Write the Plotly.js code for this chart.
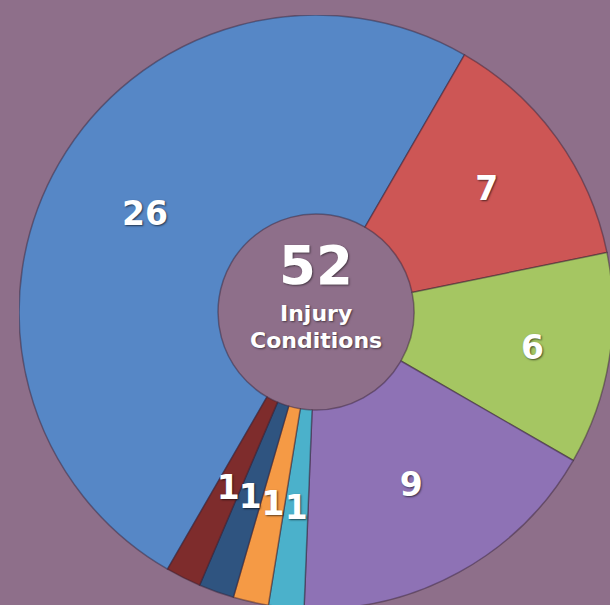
<!DOCTYPE html>
<html>
<head>
<meta charset="utf-8">
<script src="https://cdn.plot.ly/plotly-3.0.1.min.js"></script>
<style>
  html, body { margin: 0; padding: 0; width: 610px; height: 605px; overflow: hidden; background: #8E6F8A; }
  #chart { position: absolute; left: 19px; top: 15px; width: 594px; height: 594px; }
</style>
</head>
<body>
<div id="chart"></div>
<script>
const categories = ["A", "B", "C", "D", "E", "F", "G", "H"];
const values = [26, 7, 6, 9, 1, 1, 1, 1];
const colors = ["#5687C6", "#CD5655", "#A5C662", "#8E72B5", "#4BB1CB", "#F59A45", "#2F5480", "#7E2C2C"];
const totalLabel = "52";
const subLabel1 = "Injury";
const subLabel2 = "Conditions";

const labelFont = { family: "DejaVu Sans", size: 33, color: "#ffffff", weight: 700, shadow: "1px 1px 2px rgba(0,0,0,0.6)" };

// main ring: labels for the larger slices
const ring = {
  type: "pie",
  labels: categories,
  values: values,
  sort: false,
  direction: "clockwise",
  rotation: 210,
  hole: 0.33,
  texttemplate: values.map(v => v > 1 ? "%{value}" : ""),
  textposition: "inside",
  insidetextorientation: "horizontal",
  textfont: labelFont,
  marker: { colors: colors, line: { color: "rgba(50,30,50,0.45)", width: 1.5 } },
  hoverinfo: "none",
  showlegend: false
};

// transparent overlay ring carrying the labels of the thin slices at mid-ring depth
const thinLabels = {
  type: "pie",
  labels: categories,
  values: values,
  sort: false,
  direction: "clockwise",
  rotation: 210,
  hole: 0.5,
  domain: { x: [0.1498, 0.8502], y: [0.1498, 0.8502] },
  texttemplate: values.map(v => v > 1 ? "" : "%{value}"),
  textposition: "inside",
  insidetextorientation: "horizontal",
  textfont: labelFont,
  marker: { colors: values.map(() => "rgba(0,0,0,0)"), line: { width: 0 } },
  hoverinfo: "none",
  showlegend: false
};

const centerFont = (s) => ({ family: "DejaVu Sans", size: s, color: "#ffffff", weight: 700, shadow: "1px 1px 2px rgba(0,0,0,0.5)" });

const layout = {
  width: 594, height: 594,
  margin: { l: 0, r: 0, t: 0, b: 0 },
  paper_bgcolor: "#8E6F8A",
  plot_bgcolor: "#8E6F8A",
  showlegend: false,
  uniformtext: { mode: "show", minsize: 33 },
  annotations: [
    { x: 0.5, y: 0.5, xref: "paper", yref: "paper", text: totalLabel, showarrow: false,
      yshift: 47, font: centerFont(53) },
    { x: 0.5, y: 0.5, xref: "paper", yref: "paper", text: subLabel1, showarrow: false,
      yshift: -1, font: centerFont(22) },
    { x: 0.5, y: 0.5, xref: "paper", yref: "paper", text: subLabel2, showarrow: false,
      yshift: -28, font: centerFont(22) }
  ]
};

Plotly.newPlot("chart", [ring, thinLabels], layout, { displayModeBar: false, staticPlot: true });
</script>
</body>
</html>
